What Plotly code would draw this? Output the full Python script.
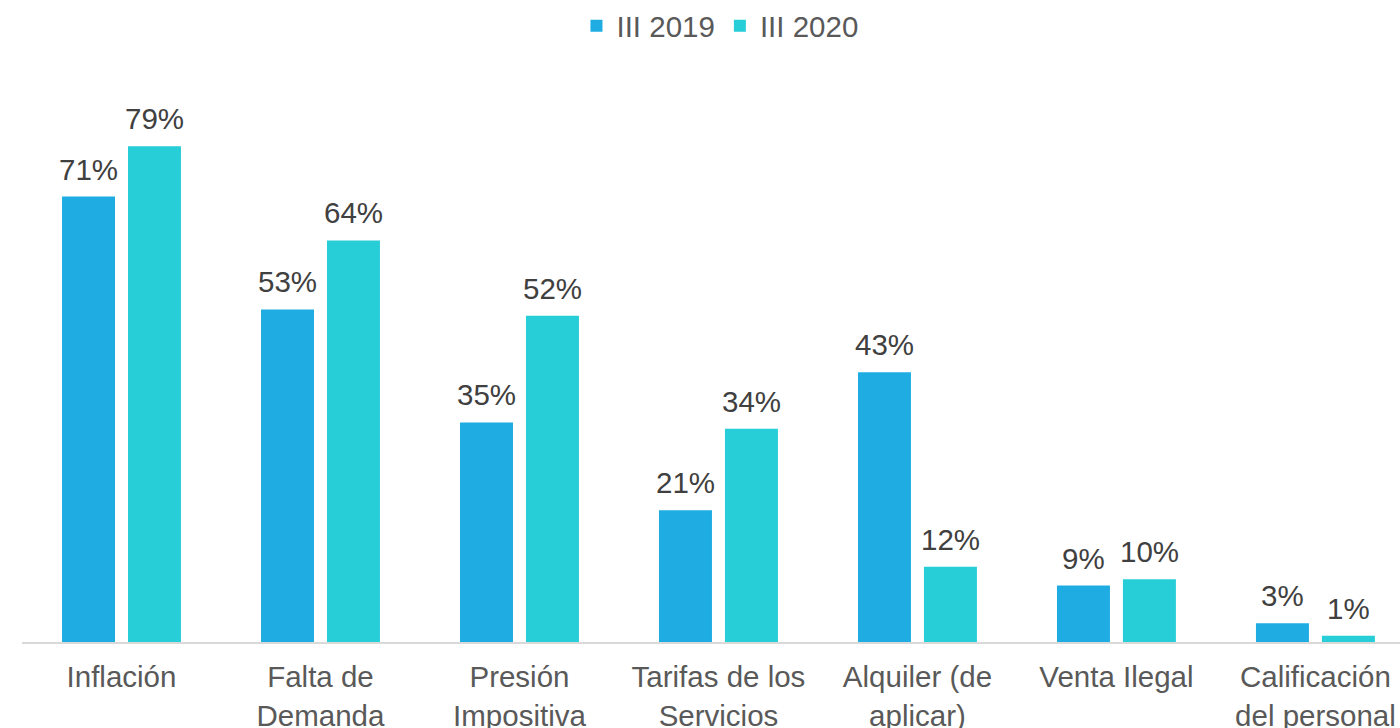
import plotly.graph_objects as go

categories = ["Inflación", "Falta de<br>Demanda", "Presión<br>Impositiva", "Tarifas de los<br>Servicios",
              "Alquiler (de<br>aplicar)", "Venta Ilegal", "Calificación<br>del personal"]
series_names = ["III 2019", "III 2020"]
values_2019 = [71, 53, 35, 21, 43, 9, 3]
values_2020 = [79, 64, 52, 34, 12, 10, 1]
colors = ["#1EACE3", "#27CDD7"]

positions = list(range(len(categories)))
FONT = "Liberation Sans, Arial, sans-serif"
BARGAP = 0.337
GROUPGAP = 0.197
slot = (1 - BARGAP) / 2
offsets = [-slot / 2, slot / 2]

fig = go.Figure()
for name, vals, col in zip(series_names, [values_2019, values_2020], colors):
    fig.add_trace(go.Bar(
        x=positions, y=vals, name=name, marker_color=col,
        marker_line_width=0, cliponaxis=False,
    ))

annotations = []
for vals, off in zip([values_2019, values_2020], offsets):
    for p, v in zip(positions, vals):
        annotations.append(dict(
            x=p + off, y=v, xref="x", yref="y", text=f"{v}%", showarrow=False,
            xanchor="center", yanchor="bottom", yshift=9,
            font=dict(size=29.5, color="#404040", family=FONT),
        ))

fig.update_layout(
    width=1400, height=728,
    paper_bgcolor="white", plot_bgcolor="white",
    margin=dict(l=22, r=0, t=0, b=86),
    barmode="group", bargap=BARGAP, bargroupgap=GROUPGAP,
    font=dict(family=FONT, size=29.5, color="#595959"),
    showlegend=True,
    legend=dict(orientation="h", x=0.5065, xanchor="center", y=1 - 19 / 642, yanchor="middle",
                font=dict(size=29.5, color="#595959"), itemclick=False,
                bgcolor="rgba(0,0,0,0)"),
    annotations=annotations,
)
fig.update_xaxes(range=[-0.5, 6.425], tickvals=positions, ticktext=categories,
                 showline=True, linecolor="#D9D9D9", linewidth=1.5, ticks="",
                 ticklabelstandoff=8, automargin=False,
                 showgrid=False, zeroline=False, tickfont=dict(size=29.5, color="#595959"))
fig.update_yaxes(range=[0, 101.2], visible=False, showgrid=False, zeroline=False, automargin=False)

fig.write_html("out.html", config={"displayModeBar": False},
               post_script="document.body.style.margin='0';document.body.style.padding='0';")
